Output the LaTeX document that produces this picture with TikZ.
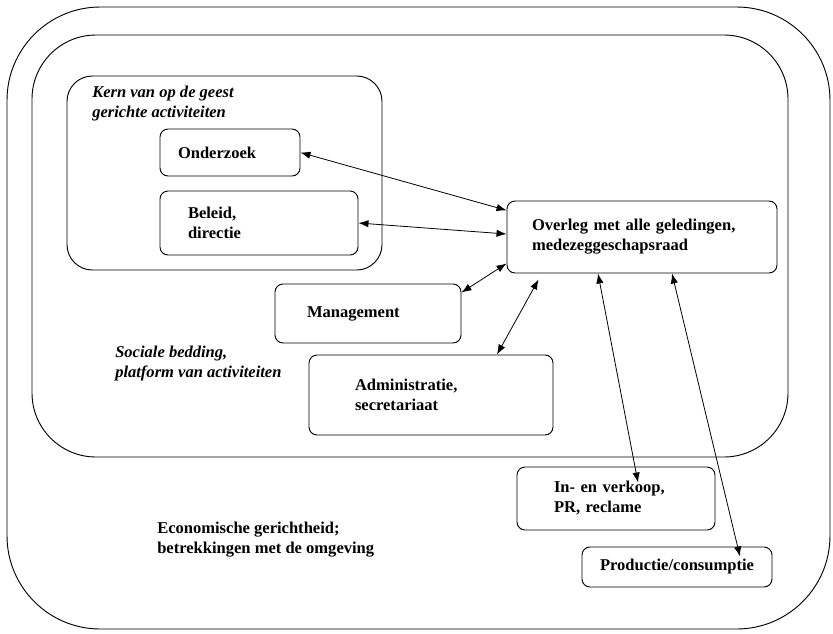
\documentclass[tikz,border=0pt]{standalone}
\usepackage{fontspec}
\setmainfont{Liberation Serif}
\usetikzlibrary{arrows.meta}

\begin{document}
\begin{tikzpicture}[x=0.75pt,y=-0.75pt,
    >={Latex[length=7.5pt,width=5.5pt]},
    tekst/.style={font=\fontsize{12.4}{15}\selectfont\bfseries},
    schuin/.style={font=\fontsize{12.4}{15}\selectfont\bfseries\itshape},
    blok/.style={tekst,draw,line width=0.7pt,rounded corners=6pt,align=left,inner xsep=0pt},
    kader/.style={line width=0.7pt},
    pijl/.style={<->,line width=0.6pt}]
    \useasboundingbox (0,0) rectangle (833,633);
    \draw[kader,rounded corners=70pt] (7,7) rectangle (830,629);
    \draw[kader,rounded corners=48pt] (32,35) rectangle (788,457);
    \draw[kader,rounded corners=19pt] (67,76) rectangle (382,270);
    \node[schuin,anchor=north west,inner sep=0pt,align=left] (kern) at (92,86) {Kern van op de geest\\gerichte activiteiten};
    \node[schuin,anchor=north west,inner sep=0pt,align=left] (sociaal) at (115,346) {Sociale bedding,\\platform van activiteiten};
    \node[tekst,anchor=north west,inner sep=0pt,align=left] (economie) at (157,522) {Economische gerichtheid;\\betrekkingen met de omgeving};
    \node[blok,minimum width=105pt,minimum height=35.25pt,text width=78pt] (onderzoek) at (230,152.5) {Onderzoek};
    \node[blok,minimum width=148.5pt,minimum height=48pt,text width=106.5pt] (beleid) at (259,223) {Beleid,\\directie};
    \node[blok,minimum width=202.5pt,minimum height=54pt,text width=165pt] (overleg) at (642,237) {Overleg met alle geledingen,\\medezeggeschapsraad};
    \node[blok,minimum width=139.5pt,minimum height=44.25pt,text width=91.5pt] (management) at (368,313.5) {Management};
    \node[blok,minimum width=183pt,minimum height=60pt,text width=114pt] (administratie) at (431,395) {Administratie,\\secretariaat};
    \node[blok,minimum width=148.5pt,minimum height=47.25pt,text width=93pt] (inverkoop) at (616,498.5) {In- en verkoop,\\PR, reclame};
    \node[blok,minimum width=142.5pt,minimum height=30pt,text width=130pt,align=center] (productie) at (677,567) {Productie/consumptie};
    \draw[pijl] (onderzoek.east) -- ([yshift=20pt]overleg.west);
    \draw[pijl] (beleid.east) -- ([yshift=2.25pt]overleg.west);
    \draw[pijl] ([yshift=-6.75pt]management.north east) -- ([yshift=7.5pt]overleg.south west);
    \draw[pijl] ([xshift=49.5pt]administratie.north) -- ([shift={(24pt,-4.5pt)}]overleg.south west);
    \draw[pijl] ([shift={(16.5pt,-12pt)}]inverkoop.north) -- ([xshift=-33pt]overleg.south);
    \draw[pijl] ([shift={(47.25pt,-7.5pt)}]productie.north) -- ([xshift=22.5pt]overleg.south);
\end{tikzpicture}
\end{document}
